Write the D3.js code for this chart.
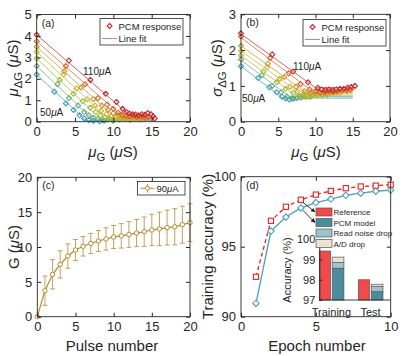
<!DOCTYPE html>
<html>
<head>
<meta charset="utf-8">
<script src="https://cdn.jsdelivr.net/npm/d3@7"></script>
<style>
  body { margin: 0; background: #fff; }
  text { font-family: "Liberation Sans", Arial, sans-serif; fill: #262626; }
</style>
</head>
<body>
<svg id="fig" width="415" height="356"></svg>
<script>
// ---- data ----
const currents = [50, 60, 70, 80, 90, 100, 110]
const seriesColors = ['#3d9cc6', '#6dab78', '#a2b83e', '#c8b62e', '#cf962c', '#d9652b', '#c82a2e']

// (a) mean of conductance change vs mean conductance, one list per current
const muDeltaG = [
  [[0,2.2],[2.3,1.4],[3.8,0.85],[4.8,0.55],[5.6,0.3],[6.2,0.15],[6.8,0.08],[7.4,0.05],[8.2,0.02],[8.8,0.05]],
  [[0,2.6],[2.7,1.75],[4.2,1.1],[5.4,0.75],[6.2,0.45],[6.8,0.3],[7.4,0.18],[8.0,0.12],[8.6,0.08],[9.3,0.1],[10.0,0.05]],
  [[0,2.95],[3.0,1.95],[4.8,1.3],[6.0,0.95],[7.0,0.65],[7.7,0.45],[8.3,0.3],[8.9,0.2],[9.5,0.15],[10.1,0.12],[10.8,0.1],[11.5,0.12],[12.2,0.08]],
  [[0,3.25],[3.5,2.2],[5.2,1.55],[6.6,1.05],[7.6,0.75],[8.4,0.5],[9.1,0.35],[9.7,0.25],[10.3,0.2],[10.9,0.15],[11.5,0.18],[12.1,0.12],[12.8,0.15],[13.5,0.1]],
  [[0,3.5],[3.6,2.35],[5.8,1.6],[7.4,1.05],[8.5,0.75],[9.3,0.55],[10.0,0.4],[10.6,0.3],[11.2,0.25],[11.8,0.2],[12.4,0.22],[13.0,0.18],[13.6,0.2],[14.2,0.15]],
  [[0,3.75],[3.8,2.6],[6.3,1.75],[8.0,1.1],[9.2,0.8],[10.0,0.6],[10.6,0.42],[11.1,0.32],[11.6,0.28],[12.1,0.25],[12.6,0.3],[13.1,0.22],[13.6,0.25],[14.1,0.2],[14.6,0.22]],
  [[0,4.05],[4.2,2.85],[7.0,1.95],[9.0,1.3],[10.4,0.92],[11.2,0.6],[11.7,0.45],[12.1,0.38],[12.5,0.35],[12.9,0.33],[13.3,0.3],[13.7,0.35],[14.1,0.32],[14.5,0.4],[14.9,0.35],[15.2,0.25],[15.4,0.15]]
]
const muFit = [
  [[0,2.2],[6.4,0.06],[15,0.06]],
  [[0,2.6],[7.4,0.08],[15,0.08]],
  [[0,2.95],[8.4,0.1],[15,0.1]],
  [[0,3.25],[9.4,0.12],[15,0.12]],
  [[0,3.5],[10.4,0.15],[15,0.15]],
  [[0,3.75],[11.4,0.18],[15.2,0.18]],
  [[0,4.05],[12.4,0.22],[15.4,0.22]]
]

// (b) std of conductance change vs mean conductance
const sigmaDeltaG = [
  [[0,1.55],[2.3,1.22],[3.8,0.96],[4.8,0.82],[5.5,0.7],[6.0,0.65],[6.5,0.62],[7.0,0.64],[7.5,0.66],[8.0,0.68]],
  [[0,1.74],[2.8,1.3],[4.2,1.0],[5.4,0.82],[6.2,0.7],[6.8,0.65],[7.4,0.66],[8.0,0.68],[8.6,0.7],[9.3,0.7]],
  [[0,1.85],[3.0,1.4],[4.8,1.1],[6.0,0.92],[7.0,0.8],[7.7,0.72],[8.3,0.7],[8.9,0.7],[9.5,0.72],[10.2,0.73],[10.9,0.74],[11.6,0.75]],
  [[0,1.98],[3.5,1.52],[5.2,1.2],[6.6,0.98],[7.6,0.85],[8.4,0.78],[9.1,0.74],[9.7,0.75],[10.3,0.76],[11.0,0.78],[11.7,0.78],[12.4,0.8],[13.2,0.8]],
  [[0,2.12],[3.6,1.62],[5.8,1.25],[7.4,0.98],[8.5,0.85],[9.3,0.8],[10.0,0.78],[10.7,0.8],[11.4,0.8],[12.1,0.82],[12.8,0.83],[13.5,0.85],[14.2,0.86]],
  [[0,2.38],[3.9,1.78],[6.4,1.35],[8.0,1.05],[9.2,0.9],[10.0,0.85],[10.6,0.82],[11.2,0.83],[11.8,0.85],[12.4,0.84],[13.0,0.86],[13.6,0.88],[14.2,0.9],[14.7,0.9]],
  [[0,2.47],[4.2,1.88],[7.0,1.4],[9.0,1.1],[10.3,0.95],[10.8,0.9],[11.3,0.88],[11.8,0.9],[12.3,0.88],[12.8,0.9],[13.3,0.92],[13.8,0.92],[14.3,0.95],[14.8,0.97],[15.3,1.0]]
]
const sigmaFit = [
  [[0,1.55],[5.6,0.66],[15,0.66]],
  [[0,1.72],[6.5,0.7],[15,0.7]],
  [[0,1.85],[7.3,0.74],[15,0.74]],
  [[0,1.98],[8.0,0.78],[15,0.78]],
  [[0,2.12],[8.7,0.82],[15,0.82]],
  [[0,2.35],[9.4,0.88],[15.2,0.88]],
  [[0,2.45],[10.0,0.95],[15.4,0.95]]
]

// (c) conductance vs pulse number at 90 uA
const pulses = d3.range(0, 21)
const gMean = [0, 3.73, 6.08, 7.5, 8.7, 9.57, 10.1, 10.5, 10.86, 11.15, 11.44, 11.6, 11.8, 12.0, 12.2, 12.44, 12.6, 12.78, 12.9, 13.2, 13.5]
const gStd = [0, 2.1, 2.1, 1.95, 1.75, 1.5, 1.4, 1.45, 1.5, 1.6, 1.65, 1.75, 1.85, 1.95, 2.1, 2.25, 2.4, 2.5, 2.6, 2.65, 2.7]

// (d) training accuracy per epoch
const epochs = [1, 2, 3, 4, 5, 6, 7, 8, 9, 10]
const accReference = [92.85, 96.85, 97.85, 98.35, 98.72, 98.98, 99.18, 99.3, 99.36, 99.43]
const accPCM = [90.95, 96.12, 97.12, 97.77, 98.15, 98.4, 98.67, 98.82, 98.96, 99.04]

// (d) inset: final accuracy
const insetCats = ['Training', 'Test']
const insetReference = [99.42, 98.0]
const insetPCM = [98.57, 97.41]
const insetReadNoiseDrop = [0.28, 0.25]
const insetADDrop = [0.27, 0.12]
const insetLegend = ['Reference', 'PCM model', 'Read noise drop', 'A/D drop']
const insetColors = ['#f2494b', '#4d8c9c', '#9dc3cf', '#ece2cf']

// ---- helpers ----
const svg = d3.select('#fig')
const ink = '#262626'
const intFmt = d3.format('d')

function makePanel(xd, xr, yd, yr) {
  return {
    g: svg.append('g'),
    x: d3.scaleLinear().domain(xd).range(xr),
    y: d3.scaleLinear().domain(yd).range(yr)
  }
}

// MATLAB-like box with inward ticks on all four sides
function drawFrame(p, xt, yt) {
  const [x0, x1] = p.x.range(), [y0, y1] = p.y.range()
  const ax = p.g.append('g').attr('class', 'frame')
  ax.append('g').attr('transform', `translate(0,${y0})`)
    .call(d3.axisBottom(p.x).tickValues(xt).tickFormat(intFmt).tickSizeInner(-4).tickSizeOuter(0).tickPadding(5))
  ax.append('g').attr('transform', `translate(0,${y1})`)
    .call(d3.axisTop(p.x).tickValues(xt).tickSizeInner(-4).tickSizeOuter(0).tickFormat(''))
  ax.append('g').attr('transform', `translate(${x0},0)`)
    .call(d3.axisLeft(p.y).tickValues(yt).tickFormat(intFmt).tickSizeInner(-4).tickSizeOuter(0).tickPadding(5))
  ax.append('g').attr('transform', `translate(${x1},0)`)
    .call(d3.axisRight(p.y).tickValues(yt).tickSizeInner(-4).tickSizeOuter(0).tickFormat(''))
  ax.selectAll('.domain').remove()
  ax.selectAll('.tick line').attr('stroke', ink)
  ax.selectAll('.tick text').attr('fill', ink).attr('font-size', 13)
    .style('font-family', '"Liberation Sans", Arial, sans-serif')
  ax.append('rect')
    .attr('x', x0).attr('y', y1)
    .attr('width', x1 - x0).attr('height', y0 - y1)
    .attr('fill', 'none').attr('stroke', ink).attr('stroke-width', 0.9)
}

const diamond = r => `M0,${-r}L${r},0L0,${r}L${-r},0Z`

function panelTag(p, label) {
  p.g.append('text').attr('x', p.x.range()[0] + 5).attr('y', p.y.range()[1] + 12)
    .attr('font-size', 10.5).text(label)
}

// text with an italic mu and optional subscript pieces: parts = [[text, style]]
function richText(sel, parts) {
  parts.forEach(([t, s]) => {
    const ts = sel.append('tspan').text(t)
    if (s === 'i') ts.attr('font-style', 'italic')
    if (s === 'sub') ts.attr('font-size', '0.75em').attr('dy', 4)
    if (s === 'up') ts.attr('dy', -4)
  })
  return sel
}

function scatterPanel(p, pts, fits, labelHi, labelLo) {
  const line = d3.line().x(d => p.x(d[0])).y(d => p.y(d[1]))
  currents.forEach((c, i) => {
    p.g.append('path').attr('d', line(fits[i]))
      .attr('fill', 'none').attr('stroke', seriesColors[i])
      .attr('stroke-opacity', 0.75).attr('stroke-width', 1)
  })
  currents.forEach((c, i) => {
    p.g.append('g').selectAll('path').data(pts[i]).join('path')
      .attr('transform', d => `translate(${p.x(d[0])},${p.y(d[1])})`)
      .attr('d', diamond(2.5))
      .attr('fill', 'none').attr('stroke', seriesColors[i]).attr('stroke-width', 1.1)
  })
  richText(p.g.append('text').attr('x', labelHi[0]).attr('y', labelHi[1]).attr('font-size', 10),
    [['110'], ['\u03bc', 'i'], ['A']])
  richText(p.g.append('text').attr('x', labelLo[0]).attr('y', labelLo[1]).attr('font-size', 10),
    [['50'], ['\u03bc', 'i'], ['A']])
}

function scatterLegend(p, bx, by) {
  const lg = p.g.append('g').attr('transform', `translate(${bx},${by})`)
  lg.append('rect').attr('width', 83).attr('height', 26.5)
    .attr('fill', '#fff').attr('stroke', ink).attr('stroke-width', 0.8)
  lg.append('path').attr('d', diamond(2.5)).attr('transform', 'translate(9.5,7.5)')
    .attr('fill', 'none').attr('stroke', seriesColors[6]).attr('stroke-width', 1.1)
  lg.append('text').attr('x', 18.5).attr('y', 11).attr('font-size', 9.5).text('PCM response')
  lg.append('line').attr('x1', 2).attr('x2', 17).attr('y1', 20).attr('y2', 20)
    .attr('stroke', '#e47b7d').attr('stroke-width', 1)
  lg.append('text').attr('x', 18.5).attr('y', 23.5).attr('font-size', 9.5).text('Line fit')
}

// ---- (a) ----
const pa = makePanel([0, 20], [36.7, 190], [0, 5], [121.7, 14.5])
scatterPanel(pa, muDeltaG, muFit, [83, 75], [40, 116])
drawFrame(pa, [0, 5, 10, 15, 20], [0, 1, 2, 3, 4, 5])
scatterLegend(pa, 100, 18.5)
panelTag(pa, '(a)')
richText(svg.append('text').attr('transform', 'translate(18,68) rotate(-90)')
  .attr('text-anchor', 'middle').attr('font-size', 15),
  [['\u03bc', 'i'], ['\u0394G', 'sub'], [' (', 'up'], ['\u03bc', 'i'], ['S)']])
richText(svg.append('text').attr('x', 113).attr('y', 157).attr('text-anchor', 'middle').attr('font-size', 15),
  [['\u03bc', 'i'], ['G', 'sub'], [' (', 'up'], ['\u03bc', 'i'], ['S)']])

// ---- (b) ----
const pb = makePanel([0, 20], [241, 390], [0, 3], [121.7, 14.3])
scatterPanel(pb, sigmaDeltaG, sigmaFit, [293, 70], [242, 102])
drawFrame(pb, [0, 5, 10, 15, 20], [0, 1, 2, 3])
scatterLegend(pb, 303, 19.5)
panelTag(pb, '(b)')
richText(svg.append('text').attr('transform', 'translate(222,68) rotate(-90)')
  .attr('text-anchor', 'middle').attr('font-size', 15),
  [['\u03c3', 'i'], ['\u0394G', 'sub'], [' (', 'up'], ['\u03bc', 'i'], ['S)']])
richText(svg.append('text').attr('x', 316).attr('y', 157).attr('text-anchor', 'middle').attr('font-size', 15),
  [['\u03bc', 'i'], ['G', 'sub'], [' (', 'up'], ['\u03bc', 'i'], ['S)']])

// ---- (c) ----
const pc = makePanel([0, 20], [37.3, 190], [0, 20], [316.7, 177.3])
const cColor = '#b8892f'
const cg = pc.g.append('g')
cg.selectAll('.err').data(pulses.filter(i => gStd[i] > 0)).join('g').attr('class', 'err')
  .each(function (i) {
    const e = d3.select(this), xx = pc.x(i)
    const top = pc.y(gMean[i] + gStd[i]), bot = pc.y(gMean[i] - gStd[i])
    e.append('line').attr('x1', xx).attr('x2', xx).attr('y1', top).attr('y2', bot)
    e.append('line').attr('x1', xx - 2.5).attr('x2', xx + 2.5).attr('y1', top).attr('y2', top)
    e.append('line').attr('x1', xx - 2.5).attr('x2', xx + 2.5).attr('y1', bot).attr('y2', bot)
  })
  .selectAll('line').attr('stroke', cColor).attr('stroke-opacity', 0.8).attr('stroke-width', 1)
cg.append('path').datum(pulses)
  .attr('d', d3.line().x(i => pc.x(i)).y(i => pc.y(gMean[i])))
  .attr('fill', 'none').attr('stroke', cColor).attr('stroke-width', 1.2)
cg.selectAll('circle').data(pulses).join('circle')
  .attr('cx', i => pc.x(i)).attr('cy', i => pc.y(gMean[i])).attr('r', 2.2)
  .attr('fill', '#fff').attr('stroke', cColor).attr('stroke-width', 1)
drawFrame(pc, [0, 5, 10, 15, 20], [0, 5, 10, 15, 20])
panelTag(pc, '(c)')
{
  const lg = pc.g.append('g').attr('transform', 'translate(137.5,181.5)')
  lg.append('rect').attr('width', 47.5).attr('height', 13.5)
    .attr('fill', '#fff').attr('stroke', ink).attr('stroke-width', 0.8)
  lg.append('line').attr('x1', 3).attr('x2', 17).attr('y1', 6.8).attr('y2', 6.8).attr('stroke', cColor)
  lg.append('line').attr('x1', 10).attr('x2', 10).attr('y1', 2.5).attr('y2', 11).attr('stroke', cColor)
  lg.append('circle').attr('cx', 10).attr('cy', 6.8).attr('r', 2).attr('fill', '#fff').attr('stroke', cColor)
  richText(lg.append('text').attr('x', 19).attr('y', 10.5).attr('font-size', 9.5),
    [['90'], ['\u03bc', 'i'], ['A']])
}
richText(svg.append('text').attr('transform', 'translate(19,247) rotate(-90)')
  .attr('text-anchor', 'middle').attr('font-size', 15),
  [['G ('], ['\u03bc', 'i'], ['S)']])
svg.append('text').attr('x', 112).attr('y', 351).attr('text-anchor', 'middle')
  .attr('font-size', 15).text('Pulse number')

// ---- (d) ----
const pd = makePanel([0, 10], [241, 390.7], [90, 100], [316.7, 176.7])
const refColor = '#f01e1e', pcmColor = '#4ba0b6'
pd.g.append('path').datum(epochs)
  .attr('d', d3.line().x(e => pd.x(e)).y((e, i) => pd.y(accReference[i])))
  .attr('fill', 'none').attr('stroke', refColor).attr('stroke-width', 1.3).attr('stroke-dasharray', '4,3')
pd.g.append('path').datum(epochs)
  .attr('d', d3.line().x(e => pd.x(e)).y((e, i) => pd.y(accPCM[i])))
  .attr('fill', 'none').attr('stroke', pcmColor).attr('stroke-width', 1.3)
pd.g.append('g').selectAll('rect').data(epochs).join('rect')
  .attr('x', e => pd.x(e) - 2.6).attr('y', (e, i) => pd.y(accReference[i]) - 2.6)
  .attr('width', 5.2).attr('height', 5.2)
  .attr('fill', '#fff').attr('stroke', refColor).attr('stroke-width', 1.1)
pd.g.append('g').selectAll('path').data(epochs).join('path')
  .attr('transform', (e, i) => `translate(${pd.x(e)},${pd.y(accPCM[i])})`)
  .attr('d', diamond(3.2))
  .attr('fill', '#fff').attr('stroke', pcmColor).attr('stroke-width', 1.1)
drawFrame(pd, [0, 5, 10], [90, 95, 100])
panelTag(pd, '(d)')
svg.append('text').attr('transform', 'translate(213,246.5) rotate(-90)')
  .attr('text-anchor', 'middle').attr('font-size', 15).text('Training accuracy (%)')
svg.append('text').attr('x', 317).attr('y', 351).attr('text-anchor', 'middle')
  .attr('font-size', 15).text('Epoch number')

// inset bar chart
const ix = d3.scaleLinear().domain([0.7, 2.51]).range([319.3, 390])
const iy = d3.scaleLinear().domain([97, 100]).range([300, 239.3])
const ig = svg.append('g')
insetCats.forEach((cat, k) => {
  const c = k + 1
  ig.append('rect')
    .attr('x', ix(c - 0.3)).attr('width', ix(c - 0.01) - ix(c - 0.3))
    .attr('y', iy(insetReference[k])).attr('height', iy(97) - iy(insetReference[k]))
    .attr('fill', insetColors[0]).attr('stroke', '#555').attr('stroke-width', 0.7)
  const tops = d3.cumsum([insetPCM[k], insetReadNoiseDrop[k], insetADDrop[k]])
  const bots = [97, tops[0], tops[1]]
  tops.forEach((t, j) => {
    ig.append('rect')
      .attr('x', ix(c + 0.03)).attr('width', ix(c + 0.33) - ix(c + 0.03))
      .attr('y', iy(t)).attr('height', iy(bots[j]) - iy(t))
      .attr('fill', insetColors[j + 1]).attr('stroke', '#555').attr('stroke-width', 0.7)
  })
  ig.append('text').attr('x', ix(c + 0.01)).attr('y', 316).attr('text-anchor', 'middle')
    .attr('font-size', 11).text(cat)
})
ig.append('g').attr('transform', 'translate(319.3,0)')
  .call(d3.axisLeft(iy).tickValues([97, 98, 99, 100]).tickFormat(intFmt).tickSizeInner(-3).tickSizeOuter(0).tickPadding(4))
  .call(g => g.select('.domain').attr('stroke', ink))
  .call(g => g.selectAll('.tick line').attr('stroke', ink))
  .call(g => g.selectAll('.tick text').attr('fill', ink).attr('font-size', 11)
    .style('font-family', '"Liberation Sans", Arial, sans-serif'))
ig.append('line').attr('x1', 319.3).attr('x2', 390).attr('y1', 300).attr('y2', 300)
  .attr('stroke', ink).attr('stroke-width', 0.9)
ig.append('text').attr('transform', 'translate(291,270) rotate(-90)')
  .attr('text-anchor', 'middle').attr('font-size', 11).text('Accuracy (%)')

// inset legend
const legRows = [212, 222.5, 233, 243.5]
insetLegend.forEach((name, j) => {
  ig.append('rect').attr('x', 316).attr('y', legRows[j] - 4).attr('width', 16).attr('height', 8)
    .attr('fill', insetColors[j]).attr('stroke', '#555').attr('stroke-width', 0.7)
  ig.append('text').attr('x', 333.5).attr('y', legRows[j] + 3).attr('font-size', 8).text(name)
})

// arrows from epoch 4 points to the legend
svg.append('defs').append('marker').attr('id', 'arrow')
  .attr('viewBox', '0 0 10 10').attr('refX', 9).attr('refY', 5)
  .attr('markerWidth', 5).attr('markerHeight', 5).attr('orient', 'auto')
  .append('path').attr('d', 'M0,0L10,5L0,10Z').attr('fill', '#222')
const arrowFrom = [accReference[3], accPCM[3]]
arrowFrom.forEach((v, j) => {
  svg.append('line')
    .attr('x1', pd.x(4) + 2).attr('y1', pd.y(v) + 2.5)
    .attr('x2', 315).attr('y2', legRows[j])
    .attr('stroke', '#222').attr('stroke-width', 0.9).attr('marker-end', 'url(#arrow)')
})
</script>
</body>
</html>
